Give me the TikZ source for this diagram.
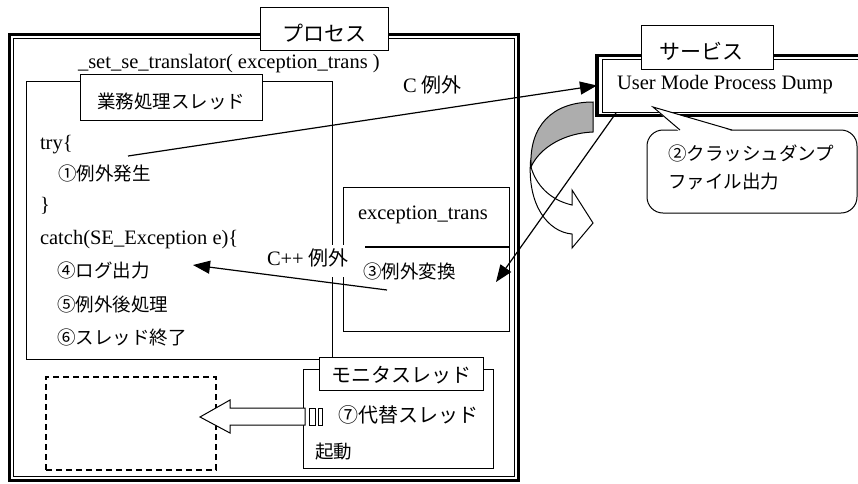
\documentclass[tikz,border=0pt]{standalone}
\usepackage{fontspec}
\setmainfont{Liberation Serif}
\newfontfamily\jp{Noto Sans CJK JP}
\usetikzlibrary{arrows.meta}
\begin{document}
\begin{tikzpicture}[x=1pt,y=-1pt,
  box/.style={draw, line width=1pt, inner sep=0pt, outer sep=0pt, anchor=north west},
  lbl/.style={box, fill=white},
  txt/.style={anchor=base west, inner sep=0pt, outer sep=0pt},
  txtc/.style={anchor=base, inner sep=0pt, outer sep=0pt},
  lat/.style={font=\fontsize{20.5}{24}\selectfont},
  jpt/.style={font=\jp\fontsize{18.5}{22}\selectfont},
  jpm/.style={font=\jp\fontsize{20}{24}\selectfont},
  jpl/.style={font=\jp\fontsize{21}{24}\selectfont},
  arr/.style={line width=1.2pt, -{Triangle[length=17pt,width=13pt]}},
]
\useasboundingbox (0,0) rectangle (858,483);
\clip (0,0) rectangle (858,483);
\fill[white] (0,0) rectangle (858,483);

% ---------- process ----------
\node[box, line width=3pt, minimum width=508.5pt, minimum height=445.5pt] (proc) at (9.5,34.5) {};
\draw[line width=0.8pt] (13.5,38.5) rectangle (514,476);
\node[lbl, minimum width=128pt, minimum height=43pt] (proclbl) at (260,7) {};
\node[txtc, jpl] (proct) at (324,41.5) {プロセス};
\node[txt, lat] (settr) at (78,68) {\_set\_se\_translator( exception\_trans )};

% ---------- worker thread ----------
\node[box, minimum width=306pt, minimum height=278pt] (thr) at (26,81) {};
\node[lbl, minimum width=182pt, minimum height=46pt] (thrlbl) at (80,74) {};
\node[txtc, jpt] (thrt) at (171,108) {業務処理スレッド};
\node[txt, lat] (try) at (40,149) {try\{};
\node[txt, jpt] (s1) at (58,180) {①例外発生};
\node[txt, lat] (brc) at (40,211) {\}};
\node[txt, lat] (catch) at (40,244) {catch(SE\_Exception e)\{};
\node[txt, jpt] (s4) at (57,277) {④ログ出力};
\node[txt, jpt] (s5) at (57,311) {⑤例外後処理};
\node[txt, jpt] (s6) at (57,344) {⑥スレッド終了};

% ---------- exception_trans ----------
\node[box, minimum width=166pt, minimum height=144pt] (etr) at (343,187) {};
\draw[line width=1.3pt] (343,247) -- (509,247);
\node[txt, lat] (etrt) at (358,219) {exception\_trans};
\fill[white] (262,245) rectangle (365,277);
\node[txt, lat] (cppt) at (267,265.6) {C++ {\jp\fontsize{20}{24}\selectfont 例外}};
\node[txt, jpt] (s3) at (363,278.5) {③例外変換};

% ---------- service ----------
\node[box, line width=3.5pt, minimum width=290pt, minimum height=60pt] (svc) at (597,55.5) {};
\draw[line width=0.8pt] (602.5,59.5) rectangle (890,112);
\node[lbl, minimum width=132pt, minimum height=44pt] (svclbl) at (641,25) {};
\node[txtc, jpl] (svct) at (701,59) {サービス};
\node[txt, lat] (umpd) at (617,89) {User Mode Process Dump};

% ---------- callout ----------
\node[box, fill=white, rounded corners=16pt, minimum width=210pt, minimum height=83pt] (note) at (647,130) {};
\coordinate (notetip) at (653,107);
\fill[white] (679,131.3) -- (notetip) -- (733,131.3) -- cycle;
\draw[line width=1pt] (680,130) -- (notetip) -- (732,130);
\node[txt, jpt] (n1) at (668,160.5) {②クラッシュダンプ};
\node[txt, jpt] (n2) at (668,188) {ファイル出力};

% ---------- curved block arrow ----------
\filldraw[fill=black!32, line width=1pt] (593,102) .. controls (552,102) and (529,126) .. (531,167)
  .. controls (540,147) and (565,133) .. (593,132) -- cycle;
\filldraw[fill=white, line width=1pt] (530.6,160) .. controls (527,205) and (548,232) .. (572,234)
  -- (572,248) -- (593,223) -- (572,190) -- (572,205)
  .. controls (550,200) and (536,185) .. (531,167) -- cycle;

% ---------- new thread (dashed) ----------
\node[box, line width=1.2pt, dash pattern=on 6pt off 4pt, minimum width=170pt, minimum height=93pt] (newthr) at (46,377) {};

% ---------- monitor thread ----------
\node[box, minimum width=190pt, minimum height=99pt] (mon) at (303,369) {};
\node[lbl, minimum width=164pt, minimum height=33pt] (monlbl) at (319,357) {};
\node[txtc, jpm] (mont) at (401,382) {モニタスレッド};
\node[txt, jpm] (s7) at (338,422.6) {⑦代替スレッド};
\node[txt, jpt] (kido) at (315,458) {起動};

% striped block arrow
\draw[line width=1pt, fill=white] (200,417) -- (230,400) -- (230,408) -- (305,408) -- (305,425)
  -- (230,425) -- (230,433) -- cycle;
\draw[line width=1pt] (309,408) rectangle (315,425);
\draw[line width=1pt] (318,408) rectangle (322,425);

% ---------- connectors ----------
\coordinate (c1s) at (128,156);
\draw[arr] (c1s) -- (svc.west);
\node[txt, lat] (clbl) at (403,92) {C {\jp\fontsize{20}{24}\selectfont 例外}};

\coordinate (ds) at (616,113);
\coordinate (de) at (496,282);
\draw[arr] (ds) -- (de);

\coordinate (cpps) at (387,290);
\coordinate (cppe) at (193,265);
\draw[arr] (cpps) -- (cppe);
\end{tikzpicture}
\end{document}
